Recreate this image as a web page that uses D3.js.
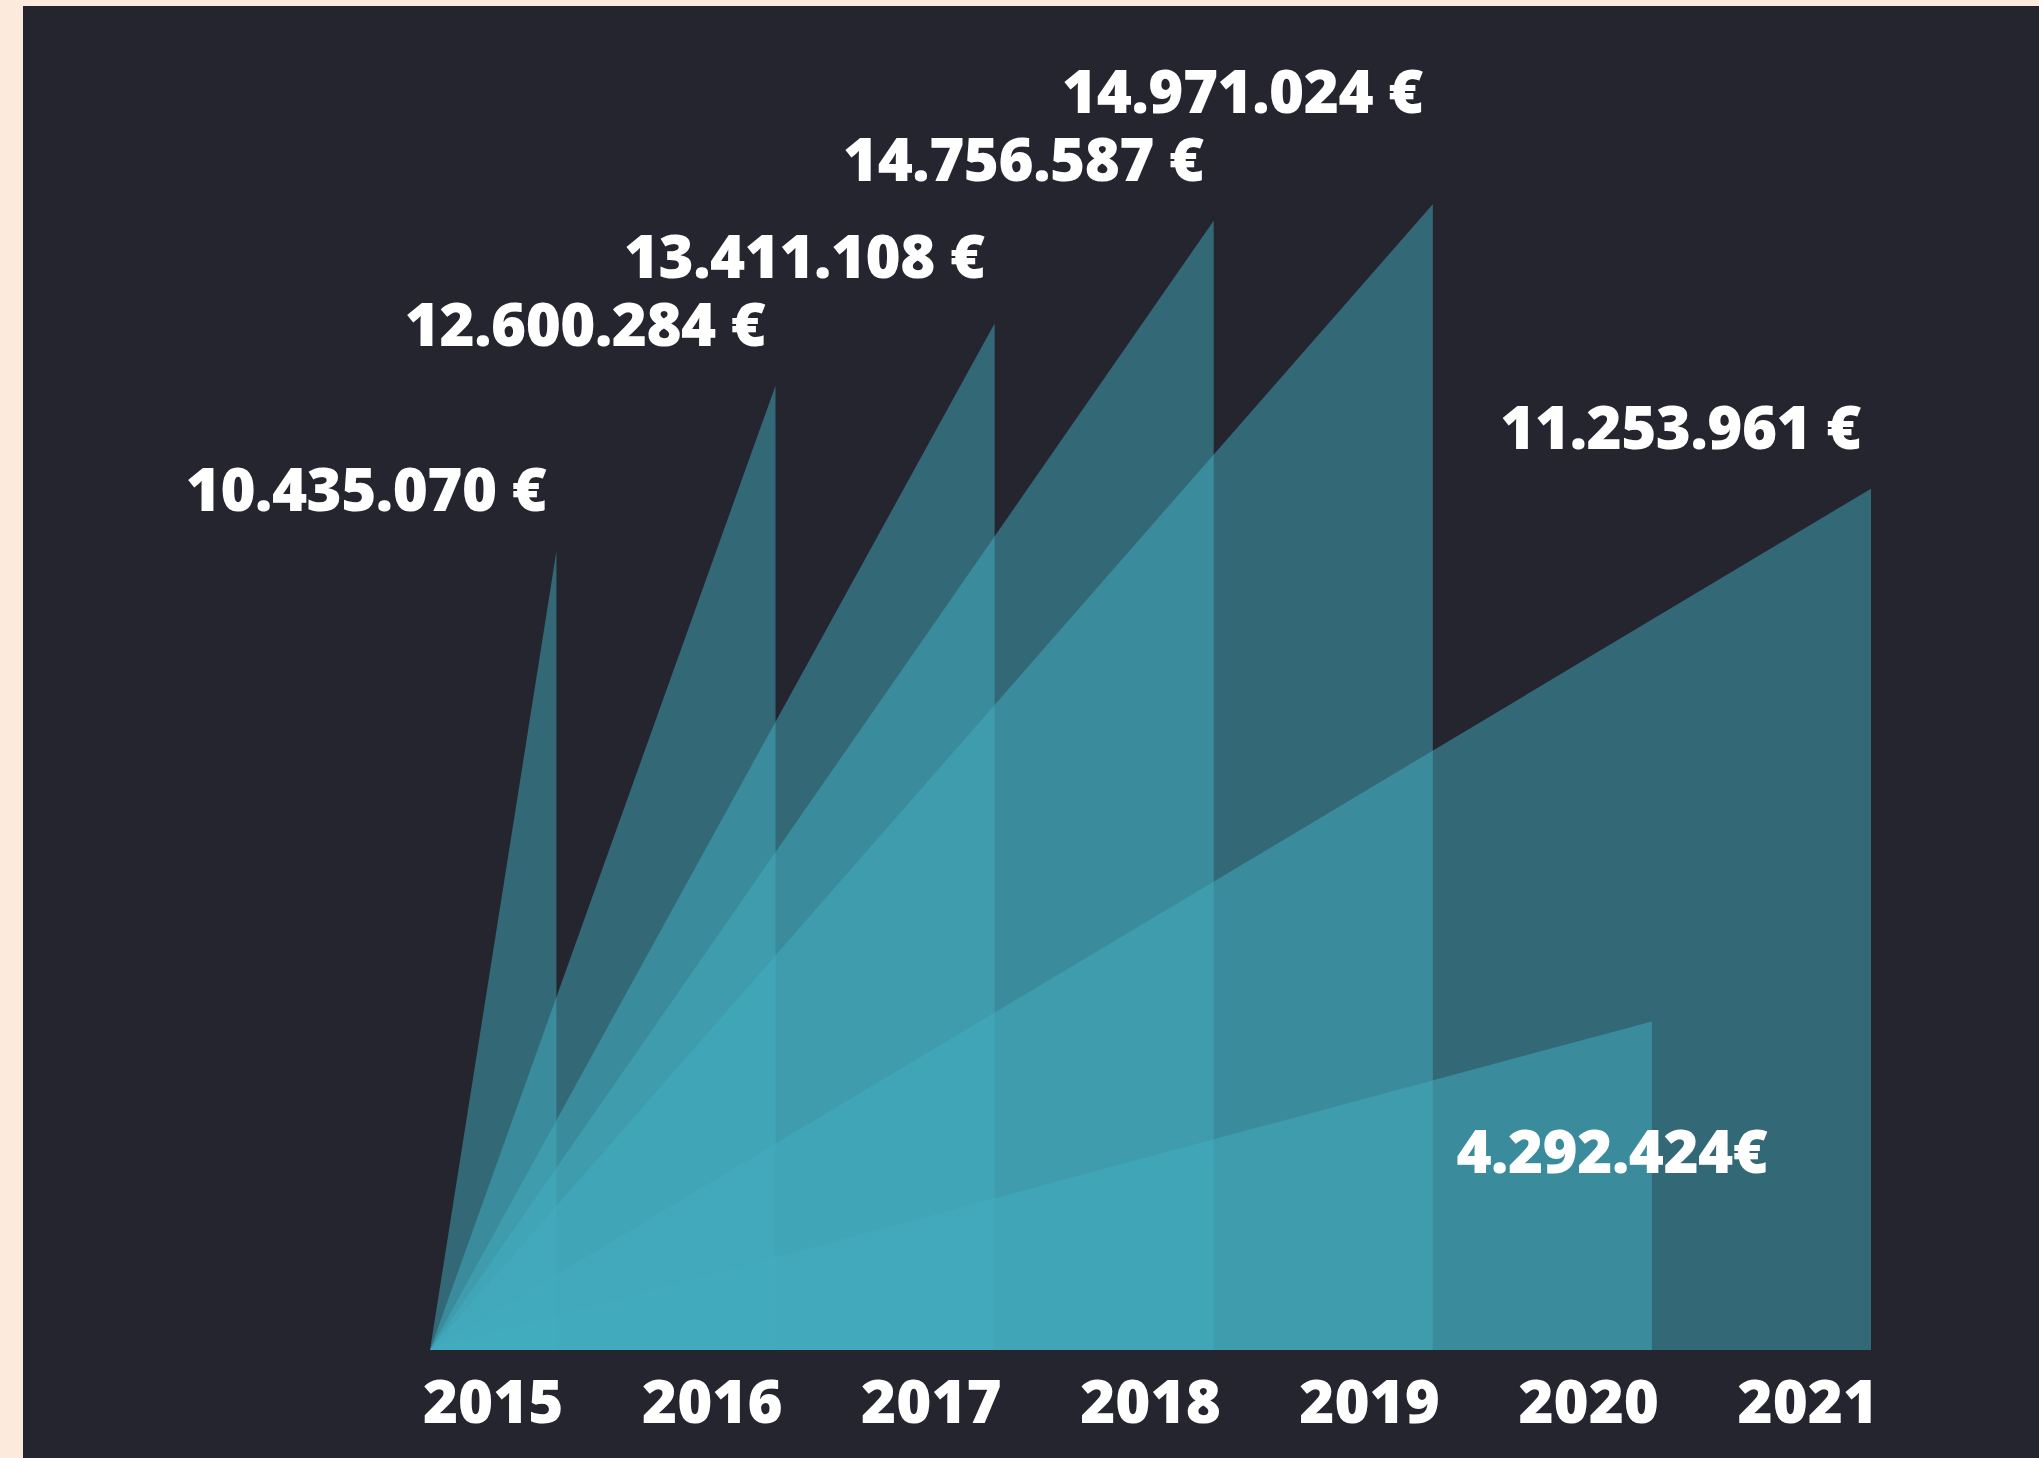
<!DOCTYPE html>
<html>
<head>
<meta charset="utf-8">
<script src="https://cdn.jsdelivr.net/npm/d3@7"></script>
<style>
  body { margin: 0; background: #fcebdc; }
  svg { display: block; }
  text { font-family: "Open Sans", sans-serif; font-weight: 800; fill: #ffffff; }
</style>
</head>
<body>
<script>
// data
const years = ["2015", "2016", "2017", "2018", "2019", "2020", "2021"];
const revenue = [10435070, 12600284, 13411108, 14756587, 14971024, 4292424, 11253961];
const revenueLabels = ["10.435.070 €", "12.600.284 €", "13.411.108 €", "14.756.587 €", "14.971.024 €", "4.292.424€", "11.253.961 €"];

const width = 2039
const height = 1458
const base = 1350

const svg = d3.select("body").append("svg")
    .attr("width", width)
    .attr("height", height)

// dark panel on the cream page
svg.append("rect")
    .attr("x", 23)
    .attr("y", 6)
    .attr("width", width - 23)
    .attr("height", height - 6)
    .attr("fill", "#25252f")

var xScale = d3.scaleBand()
    .domain(years)
    .range([430, 1871])
    .paddingInner(0.423)
    .paddingOuter(0)

var yScale = d3.scaleLinear()
    .domain([0, 15000000])
    .range([base, 202])

const rows = years.map((year, i) => ({year: year, value: revenue[i], label: revenueLabels[i]}))
const peakX = d => xScale(d.year) + xScale.bandwidth()

// each year is a triangle rising from the left start to its value
const area = d3.area()
    .x(p => p.x)
    .y0(yScale(0))
    .y1(p => yScale(p.v))

svg.append("g").selectAll("path")
    .data(rows)
    .enter()
    .append("path")
    .attr("d", d => area([{x: xScale.range()[0], v: 0}, {x: peakX(d), v: d.value}]))
    .attr("fill", "#42aec0")
    .attr("fill-opacity", 0.5)

// year axis
const axis = svg.append("g")
    .attr("transform", `translate(0,${base})`)
    .call(d3.axisBottom(xScale).tickSize(0).tickPadding(30))
axis.select(".domain").remove()
axis.selectAll("text")
    .attr("fill", "#ffffff")
    .style("font-family", '"Open Sans", sans-serif')
    .style("font-weight", 800)
    .style("font-size", "60px")

// value labels: above the peak, small values inside the triangle
const fontSize = 60
const cap = fontSize * 0.72
const small = d3.max(revenue) / 3
const labels = svg.append("g").selectAll("text")
    .data(rows)
    .enter()
    .append("text")
    .style("font-size", fontSize + "px")
    .style("letter-spacing", "-0.5px")
    .attr("text-anchor", d => d.value < small ? "middle" : "end")
    .attr("x", d => d.value < small ? peakX(d) - 40 : peakX(d) - 10)
    .attr("y", d => d.value < small ? yScale(d.value) + 152 : yScale(d.value) - 40)
    .text(d => d.label)

// push labels up when they run into one already placed
const placed = []
labels.each(function(d) {
    const t = d3.select(this)
    const w = this.getComputedTextLength()
    const anchor = t.attr("text-anchor")
    const x0 = anchor === "end" ? +t.attr("x") - w : +t.attr("x") - w / 2
    let box = {x0: x0, x1: x0 + w, y1: +t.attr("y"), y0: +t.attr("y") - cap}
    let hit = placed.find(b => b.x0 < box.x1 && box.x0 < b.x1 && b.y0 < box.y1 + 24 && box.y0 < b.y1 + 24)
    while (hit) {
        const shift = box.y1 - hit.y0 + 24
        box = {x0: box.x0, x1: box.x1, y0: box.y0 - shift, y1: box.y1 - shift}
        hit = placed.find(b => b.x0 < box.x1 && box.x0 < b.x1 && b.y0 < box.y1 + 24 && box.y0 < b.y1 + 24)
    }
    t.attr("y", box.y1)
    placed.push(box)
})
</script>
</body>
</html>
